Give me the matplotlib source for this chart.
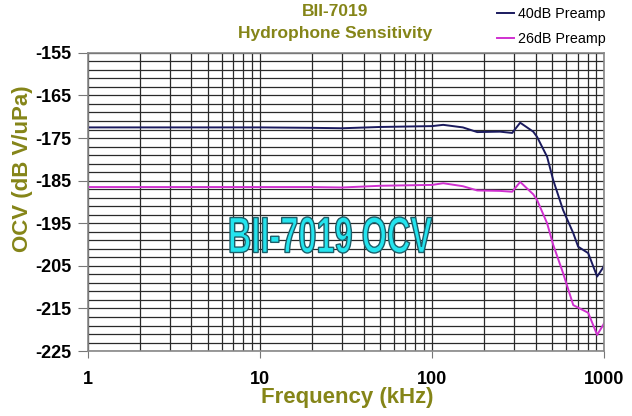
import matplotlib.pyplot as plt
from matplotlib.ticker import LogLocator, FixedLocator, NullFormatter
from matplotlib.textpath import TextPath
from matplotlib.font_manager import FontProperties
from matplotlib.patches import PathPatch
from matplotlib.transforms import Affine2D, IdentityTransform

freq = [1, 2, 5, 10, 20, 30, 50, 70, 100, 116, 151, 183, 248, 292, 325, 387, 407,
        466, 505, 577, 661, 706, 807, 910, 982, 1000]
preamp40 = [-172.5, -172.5, -172.5, -172.5, -172.6, -172.7, -172.4, -172.3, -172.2, -171.9,
            -172.5, -173.6, -173.5, -173.8, -171.4, -173.5, -174.7, -179.4, -184.8,
            -191.9, -197.3, -200.5, -202.0, -207.5, -205.5, -204.8]
preamp26 = [-186.5, -186.5, -186.5, -186.5, -186.5, -186.6, -186.2, -186.1, -186.0, -185.6,
            -186.3, -187.3, -187.4, -187.6, -185.3, -188.2, -189.5, -195.0, -200.0,
            -206.7, -214.2, -214.8, -216.0, -221.2, -219.0, -218.4]
yticks = list(range(-225, -154, 10))
ytick_labels = ['%d' % v for v in yticks]

olive = '#858518'
plt.rcParams['font.family'] = ['Liberation Sans', 'DejaVu Sans']

fig = plt.figure(figsize=(6.32, 4.16), dpi=100)
ax = fig.add_axes([0.139, 0.156, 0.817, 0.717])

ax.plot(freq, preamp40, color='#1a1a5e', lw=1.4, label='40dB Preamp')
ax.plot(freq, preamp26, color='#d030d0', lw=1.4, label='26dB Preamp')

ax.set_xscale('log')
ax.set_xlim(1, 1000)
ax.set_ylim(-225, -155)
ax.set_yticks(yticks)
ax.set_yticklabels(ytick_labels)
ax.yaxis.set_minor_locator(FixedLocator(range(-225, -154, 2)))
ax.xaxis.set_minor_locator(LogLocator(base=10, subs=range(2, 10)))
ax.xaxis.set_minor_formatter(NullFormatter())
ax.set_xticks([1, 10, 100, 1000])
ax.set_xticklabels(['1', '10', '100', '1000'])

ax.grid(True, which='both', color='#2a2a2a', lw=0.9)
ax.tick_params(which='both', labelsize=13, color='#777777')
ax.tick_params(axis='x', which='major', length=5, pad=9)
ax.tick_params(axis='x', which='minor', length=0)
ax.tick_params(axis='y', which='major', length=7, pad=5)
ax.tick_params(axis='y', which='minor', length=0)
for lbl in ax.get_xticklabels() + ax.get_yticklabels():
    lbl.set_fontweight('bold')
for s in ax.spines.values():
    s.set_color('#888888')
    s.set_linewidth(1.2)

fig.text(0.55, 0.045, 'Frequency (kHz)', ha='center', va='center',
         fontsize=16, fontweight='bold', color=olive)
fig.text(0.036, 0.595, 'OCV (dB V/uPa)', ha='center', va='center', rotation=90,
         fontsize=16, fontweight='bold', color=olive)

fig.text(0.53, 0.99, 'BII-7019\nHydrophone Sensitivity', ha='center', va='top',
         fontsize=12.5, fontweight='bold', color=olive, linespacing=1.55)

fig.legend(loc='upper left', bbox_to_anchor=(0.777, 0.997), frameon=False,
           fontsize=10.3, handlelength=1.2, handletextpad=0.25, labelspacing=0.75,
           borderaxespad=0.0)

# condensed watermark text, squeezed to fit the reference box
tp = TextPath((0, 0), 'BII-7019 OCV', size=50,
              prop=FontProperties(family='Liberation Sans', weight='bold'))
ext = tp.get_extents()
sx = 202.0 / ext.width
sy = 36.0 / ext.height
x0, y0 = 230, 416 - 253
tr = Affine2D().translate(-ext.x0, -ext.y0).scale(sx, sy).translate(x0, y0) + IdentityTransform()
patch = PathPatch(tp, transform=tr, facecolor='#24e4ee', edgecolor='#1d5f6a', lw=1.0, zorder=5)
fig.add_artist(patch)

fig.savefig('out.png', dpi=100)
